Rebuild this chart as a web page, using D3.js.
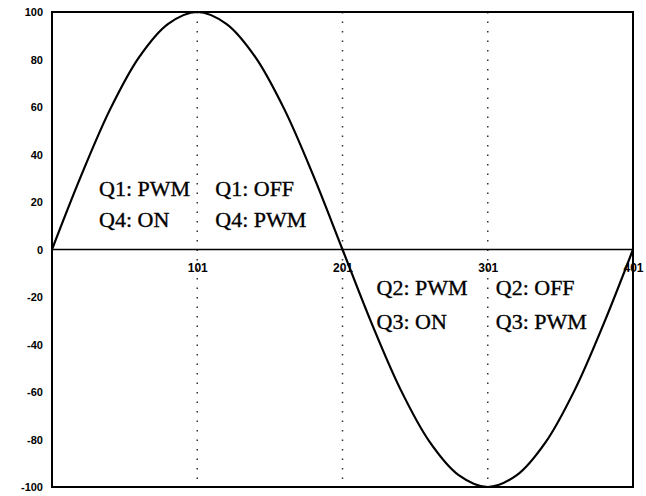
<!DOCTYPE html>
<html>
<head>
<meta charset="utf-8">
<script src="https://cdn.jsdelivr.net/npm/d3@7"></script>
<style>
  html, body { margin: 0; padding: 0; background: #fff; }
  svg { display: block; }
  .tick-label { font-family: "Liberation Sans", Arial, sans-serif; font-weight: bold; fill: #000; }
  .zone { font-family: "Liberation Serif", "Times New Roman", serif; font-size: 22px; fill: #000; stroke: #000; stroke-width: 0.35px; }
</style>
</head>
<body>
<svg id="chart" width="646" height="496"></svg>
<script>
// One full cycle of the waveform, sampled every 20 steps
const sampleX = [1, 21, 41, 61, 81, 101, 121, 141, 161, 181, 201,
                 221, 241, 261, 281, 301, 321, 341, 361, 381, 401];
const sampleY = [0, 31, 59, 81, 95, 100, 95, 81, 59, 31, 0,
                 -31, -59, -81, -95, -100, -95, -81, -59, -31, 0];

// Axis ticks
const xTicks = [101, 201, 301, 401];
const yTicks = [100, 80, 60, 40, 20, 0, -20, -40, -60, -80, -100];
const gridX = [101, 201, 301];

// Switch states for each quarter of the cycle
const zoneStart = [1, 101, 201, 301];
const zoneLine1 = ["Q1: PWM", "Q1: OFF", "Q2: PWM", "Q2: OFF"];
const zoneLine2 = ["Q4: ON", "Q4: PWM", "Q3: ON", "Q3: PWM"];

const W = 646, H = 496;
const margin = { top: 12, right: 13, bottom: 9, left: 52 };

const svg = d3.select("#chart");
const x = d3.scaleLinear().domain([1, 401]).range([margin.left, W - margin.right]);
const y = d3.scaleLinear().domain([-100, 100]).range([H - margin.bottom, margin.top]);

// Dotted vertical gridlines
svg.append("g")
  .selectAll("line")
  .data(gridX)
  .join("line")
  .attr("x1", d => x(d)).attr("x2", d => x(d))
  .attr("y1", y(100)).attr("y2", y(-100))
  .attr("stroke", "#333")
  .attr("stroke-width", 1.5)
  .attr("stroke-dasharray", "1.5,8");

// Zero line
svg.append("line")
  .attr("x1", x(1)).attr("x2", x(401))
  .attr("y1", y(0)).attr("y2", y(0))
  .attr("stroke", "#000")
  .attr("stroke-width", 1.6);

// Y axis labels
const yAxis = d3.axisLeft(y).tickValues(yTicks).tickSize(0).tickPadding(9)
  .tickFormat(d => String(d));
const gy = svg.append("g").attr("transform", `translate(${x(1)},0)`).call(yAxis);
gy.select(".domain").remove();
gy.selectAll("text").attr("class", "tick-label").attr("font-family", null).attr("font-size", "11px");

// X axis labels sitting under the zero line
const xAxis = d3.axisBottom(x).tickValues(xTicks).tickSize(0).tickPadding(14)
  .tickFormat(d => String(d));
const gx = svg.append("g").attr("transform", `translate(0,${y(0)})`).call(xAxis);
gx.select(".domain").remove();
gx.selectAll("text").attr("class", "tick-label").attr("font-family", null).attr("font-size", "12px");

// Zone annotations: upper half above the zero line, lower half below it
const zoneOffset = [47, 18, 34, 8];
const zones = svg.append("g");
zoneStart.forEach((s, i) => {
  const left = x(s) + zoneOffset[i];
  const upper = i < 2;
  const base = upper ? 196 : 295;
  const gap = upper ? 31 : 34;
  zones.append("text").attr("class", "zone").attr("x", left).attr("y", base).text(zoneLine1[i]);
  zones.append("text").attr("class", "zone").attr("x", left).attr("y", base + gap).text(zoneLine2[i]);
});

// Waveform
const line = d3.line()
  .x((d, i) => x(sampleX[i]))
  .y(d => y(d))
  .curve(d3.curveCatmullRom.alpha(0.5));
svg.append("path")
  .datum(sampleY)
  .attr("d", line)
  .attr("fill", "none")
  .attr("stroke", "#000")
  .attr("stroke-width", 2.2);

// Plot frame
svg.append("rect")
  .attr("x", x(1)).attr("y", y(100))
  .attr("width", x(401) - x(1)).attr("height", y(-100) - y(100))
  .attr("fill", "none")
  .attr("stroke", "#000")
  .attr("stroke-width", 2);
</script>
</body>
</html>
